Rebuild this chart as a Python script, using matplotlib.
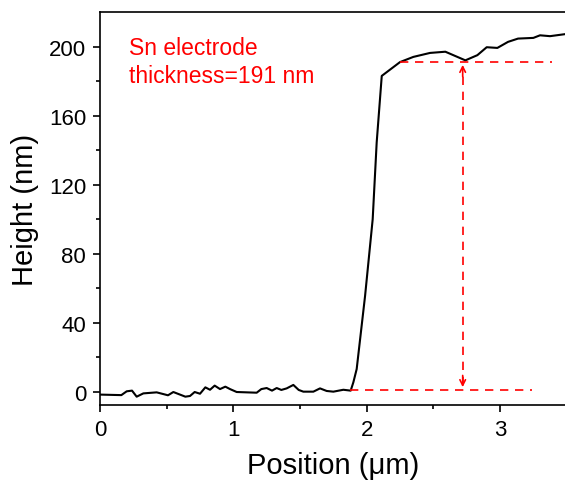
import matplotlib
matplotlib.use("Agg")
import matplotlib.pyplot as plt

plt.rcParams['font.family'] = ['Liberation Sans', 'DejaVu Sans']

pos_um = [0.0, 0.16, 0.2, 0.24, 0.275, 0.325, 0.425, 0.51, 0.55, 0.64, 0.675, 0.71, 0.75,
          0.79, 0.825, 0.86, 0.9, 0.94, 0.975, 1.025, 1.175, 1.21, 1.25, 1.29, 1.325, 1.36,
          1.4, 1.45, 1.49, 1.525, 1.6, 1.65, 1.7, 1.75, 1.825, 1.88, 1.9, 1.925, 1.988,
          2.045, 2.075, 2.113, 2.25, 2.35, 2.475, 2.59, 2.74, 2.83, 2.9, 2.98, 3.06, 3.135, 3.25,
          3.3, 3.375, 3.5]
height_nm = [-1.5, -1.8, 0.4, 0.8, -2.7, -0.8, -0.2, -1.9, 0.0, -2.7, -2.3, 0.0, -1.0,
             2.7, 1.3, 3.7, 1.7, 3.1, 1.7, 0.0, -0.4, 1.7, 2.3, 0.8, 2.3, 1.2,
             2.1, 4.1, 1.2, 0.2, 0.2, 2.1, 0.6, 0.2, 1.3, 0.8, 5.6, 13.3, 55.7,
             100.0, 144.5, 183.0, 191.0, 194.0, 196.3, 197.0, 192.0, 195.0, 199.6, 199.2, 202.7, 204.6, 205.0,
             206.5, 206.0, 207.3]

top_level = 191
base_level = 1.2
upper_dash_x = [2.25, 3.39]
lower_dash_x = [1.875, 3.24]
arrow_x = 2.72
note_lines = ["Sn electrode", "thickness=191 nm"]

fig = plt.figure(figsize=(5.65, 4.81), dpi=100)
ax = fig.add_axes([0.177, 0.156, 0.826, 0.817])

ax.plot(pos_um, height_nm, color='black', lw=1.5)

red = '#ff0000'
ax.plot(upper_dash_x, [top_level, top_level], color=red, lw=1.2, ls=(0, (5, 4)))
ax.plot(lower_dash_x, [base_level, base_level], color=red, lw=1.2, ls=(0, (5, 4)))
ax.plot([arrow_x, arrow_x], [base_level + 3, top_level - 3], color=red, lw=1.2, ls=(0, (5, 4)))
ax.annotate('', xy=(arrow_x, top_level), xytext=(arrow_x, top_level - 10),
            arrowprops=dict(arrowstyle='->', color=red, lw=1.2, mutation_scale=10))
ax.annotate('', xy=(arrow_x, base_level), xytext=(arrow_x, base_level + 10),
            arrowprops=dict(arrowstyle='->', color=red, lw=1.2, mutation_scale=10))

ax.text(0.063, 0.94, note_lines[0] + "\n" + note_lines[1], transform=ax.transAxes,
        color=red, fontsize=16.5, va='top', ha='left', linespacing=1.3)

ax.set_xlim(0, 3.5)
ax.set_ylim(-7.5, 220)
ax.set_xticks([0, 1, 2, 3])
ax.set_xticks([0.5, 1.5, 2.5, 3.5], minor=True)
ax.set_yticks([0, 40, 80, 120, 160, 200])
ax.set_yticks([20, 60, 100, 140, 180], minor=True)
ax.tick_params(which='major', direction='out', length=5, width=1.2, labelsize=16, pad=5)
ax.tick_params(which='minor', direction='out', length=3, width=1.2)
for s in ax.spines.values():
    s.set_linewidth(1.2)
ax.spines['right'].set_visible(False)

ax.set_xlabel('Position (μm)', fontsize=21, labelpad=8)
ax.set_ylabel('Height (nm)', fontsize=21, labelpad=7)

fig.savefig('out.png', dpi=100)
